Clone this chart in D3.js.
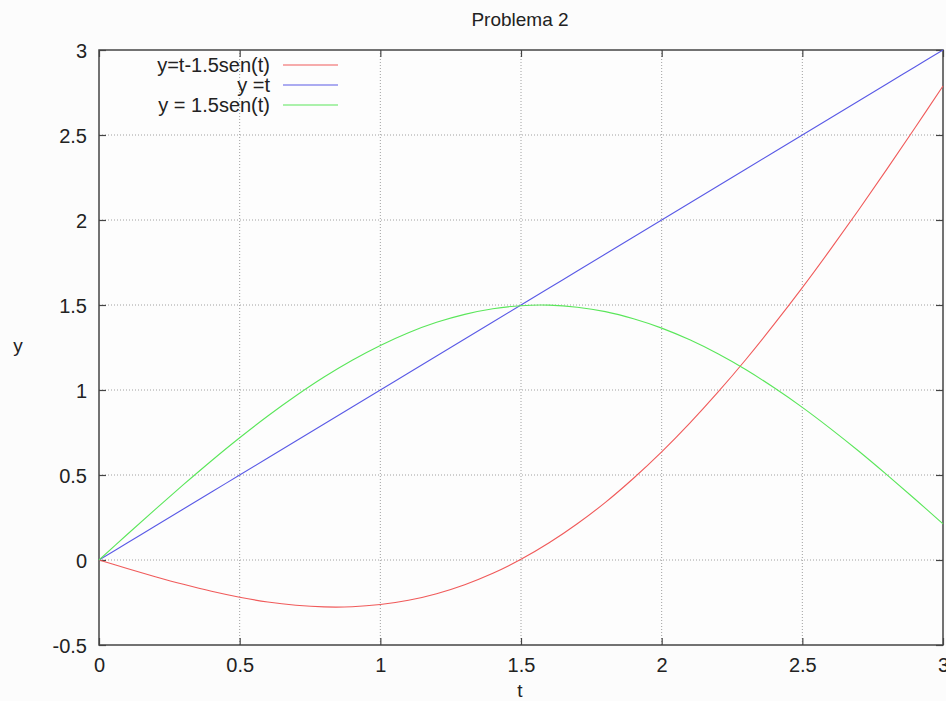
<!DOCTYPE html>
<html>
<head>
<meta charset="utf-8">
<script src="https://cdn.jsdelivr.net/npm/d3@7"></script>
<style>
  html, body { margin: 0; padding: 0; background: #fcfcfc; }
  svg { display: block; font-family: "Liberation Sans", Arial, sans-serif; }
</style>
</head>
<body>
<svg id="chart" width="946" height="701"></svg>
<script>
// Sample points along t
const tValues = [0, 0.1, 0.2, 0.3, 0.4, 0.5, 0.6, 0.7, 0.8, 0.9, 1.0,
                 1.1, 1.2, 1.3, 1.4, 1.5, 1.6, 1.7, 1.8, 1.9, 2.0,
                 2.1, 2.2, 2.3, 2.4, 2.5, 2.6, 2.7, 2.8, 2.9, 3.0];

// y = t - 1.5 sen(t)
const redValues = [0, -0.050, -0.098, -0.143, -0.184, -0.219, -0.247, -0.266, -0.276, -0.275, -0.262,
                   -0.237, -0.198, -0.145, -0.078, 0.004, 0.101, 0.213, 0.339, 0.481, 0.636,
                   0.805, 0.987, 1.181, 1.387, 1.602, 1.827, 2.059, 2.298, 2.541, 2.788];

// y = t
const blueValues = [0, 0.1, 0.2, 0.3, 0.4, 0.5, 0.6, 0.7, 0.8, 0.9, 1.0,
                    1.1, 1.2, 1.3, 1.4, 1.5, 1.6, 1.7, 1.8, 1.9, 2.0,
                    2.1, 2.2, 2.3, 2.4, 2.5, 2.6, 2.7, 2.8, 2.9, 3.0];

// y = 1.5 sen(t)
const greenValues = [0, 0.150, 0.298, 0.443, 0.584, 0.719, 0.847, 0.966, 1.076, 1.175, 1.262,
                     1.337, 1.398, 1.445, 1.478, 1.496, 1.499, 1.487, 1.461, 1.419, 1.364,
                     1.295, 1.213, 1.119, 1.013, 0.898, 0.773, 0.641, 0.502, 0.359, 0.212];

const xTicks = [0, 0.5, 1, 1.5, 2, 2.5, 3];
const yTicks = [-0.5, 0, 0.5, 1, 1.5, 2, 2.5, 3];

const seriesNames = ["y=t-1.5sen(t)", "y =t", "y = 1.5sen(t)"];
const seriesColors = ["#f05a5a", "#5a5ae6", "#5ae65a"];

const svg = d3.select("#chart");
const plotL = 99, plotR = 943, plotT = 50, plotB = 645;

const x = d3.scaleLinear().domain([0, 3]).range([plotL, plotR]);
const y = d3.scaleLinear().domain([-0.5, 3]).range([plotB, plotT]);

// Plot background
svg.append("rect")
  .attr("x", plotL).attr("y", plotT)
  .attr("width", plotR - plotL).attr("height", plotB - plotT)
  .attr("fill", "#fdfdfd");

// Dotted grid
const grid = svg.append("g").attr("stroke", "#a0a0a0").attr("stroke-width", 1)
  .attr("stroke-dasharray", "1,2");
grid.selectAll("line.gx").data(xTicks.slice(1, -1)).join("line")
  .attr("class", "gx")
  .attr("x1", d => x(d)).attr("x2", d => x(d))
  .attr("y1", plotT).attr("y2", plotB);
grid.selectAll("line.gy").data(yTicks.slice(1, -1)).join("line")
  .attr("class", "gy")
  .attr("x1", plotL).attr("x2", plotR)
  .attr("y1", d => y(d)).attr("y2", d => y(d));

// Axes with inward ticks (mirrored on the opposite sides)
const tickFmt = d => String(d);
const axB = svg.append("g").attr("transform", `translate(0,${plotB})`)
  .call(d3.axisBottom(x).tickValues(xTicks).tickFormat(tickFmt).tickSizeInner(-7).tickSizeOuter(0));
const axT = svg.append("g").attr("transform", `translate(0,${plotT})`)
  .call(d3.axisTop(x).tickValues(xTicks).tickFormat("").tickSizeInner(-7).tickSizeOuter(0));
const axL = svg.append("g").attr("transform", `translate(${plotL},0)`)
  .call(d3.axisLeft(y).tickValues(yTicks).tickFormat(tickFmt).tickSizeInner(-7).tickSizeOuter(0));
const axR = svg.append("g").attr("transform", `translate(${plotR},0)`)
  .call(d3.axisRight(y).tickValues(yTicks).tickFormat("").tickSizeInner(-7).tickSizeOuter(0));

[axB, axT, axL, axR].forEach(a => {
  a.select(".domain").remove();
  a.selectAll(".tick line").attr("stroke", "#444").attr("stroke-width", 1.2);
});
axB.selectAll(".tick text").attr("font-size", 20).attr("fill", "#222")
  .attr("font-family", "Liberation Sans, Arial, sans-serif").attr("y", 13).attr("dy", "0.71em");
axL.selectAll(".tick text").attr("font-size", 20).attr("fill", "#222")
  .attr("font-family", "Liberation Sans, Arial, sans-serif").attr("x", -12).attr("dy", "0.35em");

// Frame
svg.append("rect")
  .attr("x", plotL).attr("y", plotT)
  .attr("width", plotR - plotL).attr("height", plotB - plotT)
  .attr("fill", "none").attr("stroke", "#444").attr("stroke-width", 1.5);

// Curves
const seriesData = [redValues, blueValues, greenValues];
const gen = d3.line().x(d => x(d[0])).y(d => y(d[1])).curve(d3.curveCatmullRom.alpha(0.5));
seriesData.forEach((vals, i) => {
  svg.append("path")
    .datum(tValues.map((t, j) => [t, vals[j]]))
    .attr("fill", "none")
    .attr("stroke", seriesColors[i])
    .attr("stroke-width", 1.1)
    .attr("d", gen);
});

// Legend
const legend = svg.append("g");
seriesNames.forEach((name, i) => {
  const ly = 65 + i * 20;
  legend.append("text")
    .attr("x", 270).attr("y", ly).attr("dy", "0.35em")
    .attr("text-anchor", "end").attr("font-size", 20).attr("fill", "#222")
    .text(name);
  legend.append("line")
    .attr("x1", 283).attr("x2", 338).attr("y1", ly).attr("y2", ly)
    .attr("stroke", seriesColors[i]).attr("stroke-width", 1.1);
});

// Title and axis labels
svg.append("text").attr("x", 520).attr("y", 26).attr("text-anchor", "middle")
  .attr("font-size", 19).attr("fill", "#222").text("Problema 2");
svg.append("text").attr("x", 520).attr("y", 697).attr("text-anchor", "middle")
  .attr("font-size", 19).attr("fill", "#222").text("t");
svg.append("text").attr("x", 18).attr("y", 352).attr("text-anchor", "middle")
  .attr("font-size", 19).attr("fill", "#222").text("y");
</script>
</body>
</html>
